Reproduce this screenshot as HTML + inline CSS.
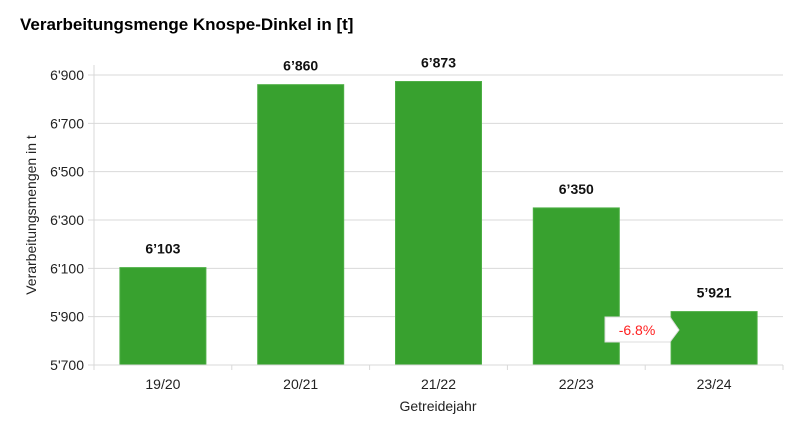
<!DOCTYPE html>
<html><head><meta charset="utf-8"><style>
body{margin:0;background:#fff;}
svg{display:block;font-family:"Liberation Sans",Arial,sans-serif;}
</style></head><body>
<svg id="c" width="800" height="433">
<text x="20" y="30" font-size="17" font-weight="bold" fill="#000">Verarbeitungsmenge Knospe-Dinkel in [t]</text>
<g id="grid"></g><g id="bars"></g><g id="axes"></g>
<text transform="translate(36,215) rotate(-90)" text-anchor="middle" font-size="14" fill="#222">Verarbeitungsmengen in t</text>
<text x="438" y="411" text-anchor="middle" font-size="14" fill="#222">Getreidejahr</text>
<g>
<path d="M605,317 H670 L679,330 L670,342 H605 Z" fill="#fff" stroke="#ddd"/>
<text x="637" y="335" text-anchor="middle" font-size="14" fill="#ff2020">-6.8%</text>
</g>
</svg>
<script>
const categories=["19/20","20/21","21/22","22/23","23/24"];
const values=[6103,6860,6873,6350,5921];
const valueLabels=["6’103","6’860","6’873","6’350","5’921"];
const yTicks=[5700,5900,6100,6300,6500,6700,6900];
const yTickLabels=["5'700","5'900","6'100","6'300","6'500","6'700","6'900"];
const NS="http://www.w3.org/2000/svg";
const x0=94,x1=783,yMin=5700,yMax=6900,yB=365,yT=75;
const y=v=>yB-(v-yMin)/(yMax-yMin)*(yB-yT);
const bw=(x1-x0)/categories.length;
const xc=i=>x0+bw*(i+0.5);
function mk(tag,attrs,parent){const e=document.createElementNS(NS,tag);for(const k in attrs)e.setAttribute(k,attrs[k]);parent.appendChild(e);return e;}
const grid=document.getElementById('grid'),bars=document.getElementById('bars'),axes=document.getElementById('axes');
yTicks.forEach((t,i)=>{
 const l=mk('line',{x1:88,x2:x1,y1:y(t),y2:y(t),stroke:'#d9d9d9'},grid);
 
 
 const tx=mk('text',{x:84,y:y(t)+5,'text-anchor':'end','font-size':14,fill:'#222'},axes);
 tx.textContent=yTickLabels[i];
 
 
});
mk('line',{x1:x0,x2:x0,y1:yT-10,y2:yB,stroke:'#d9d9d9'},axes);
mk('line',{x1:x0,x2:x1,y1:yB,y2:yB,stroke:'#d9d9d9'},axes);
for(let i=0;i<=categories.length;i++)mk('line',{x1:x0+bw*i,x2:x0+bw*i,y1:yB,y2:yB+5,stroke:'#d9d9d9'},axes);
categories.forEach((c,i)=>{
 const r=mk('rect',{x:xc(i)-43,width:86,y:y(values[i]),height:yB-y(values[i]),fill:'#38a12f',stroke:'#4caf44','stroke-width':1},bars);
 
 
 const v=mk('text',{x:xc(i),y:y(values[i])-14,'text-anchor':'middle','font-size':14,'font-weight':'bold',fill:'#111'},bars);
 v.textContent=valueLabels[i];
 
 
 const t=mk('text',{x:xc(i),y:389,'text-anchor':'middle','font-size':14,fill:'#222'},axes);
 t.textContent=c;
 
 
});
</script>
</body></html>
